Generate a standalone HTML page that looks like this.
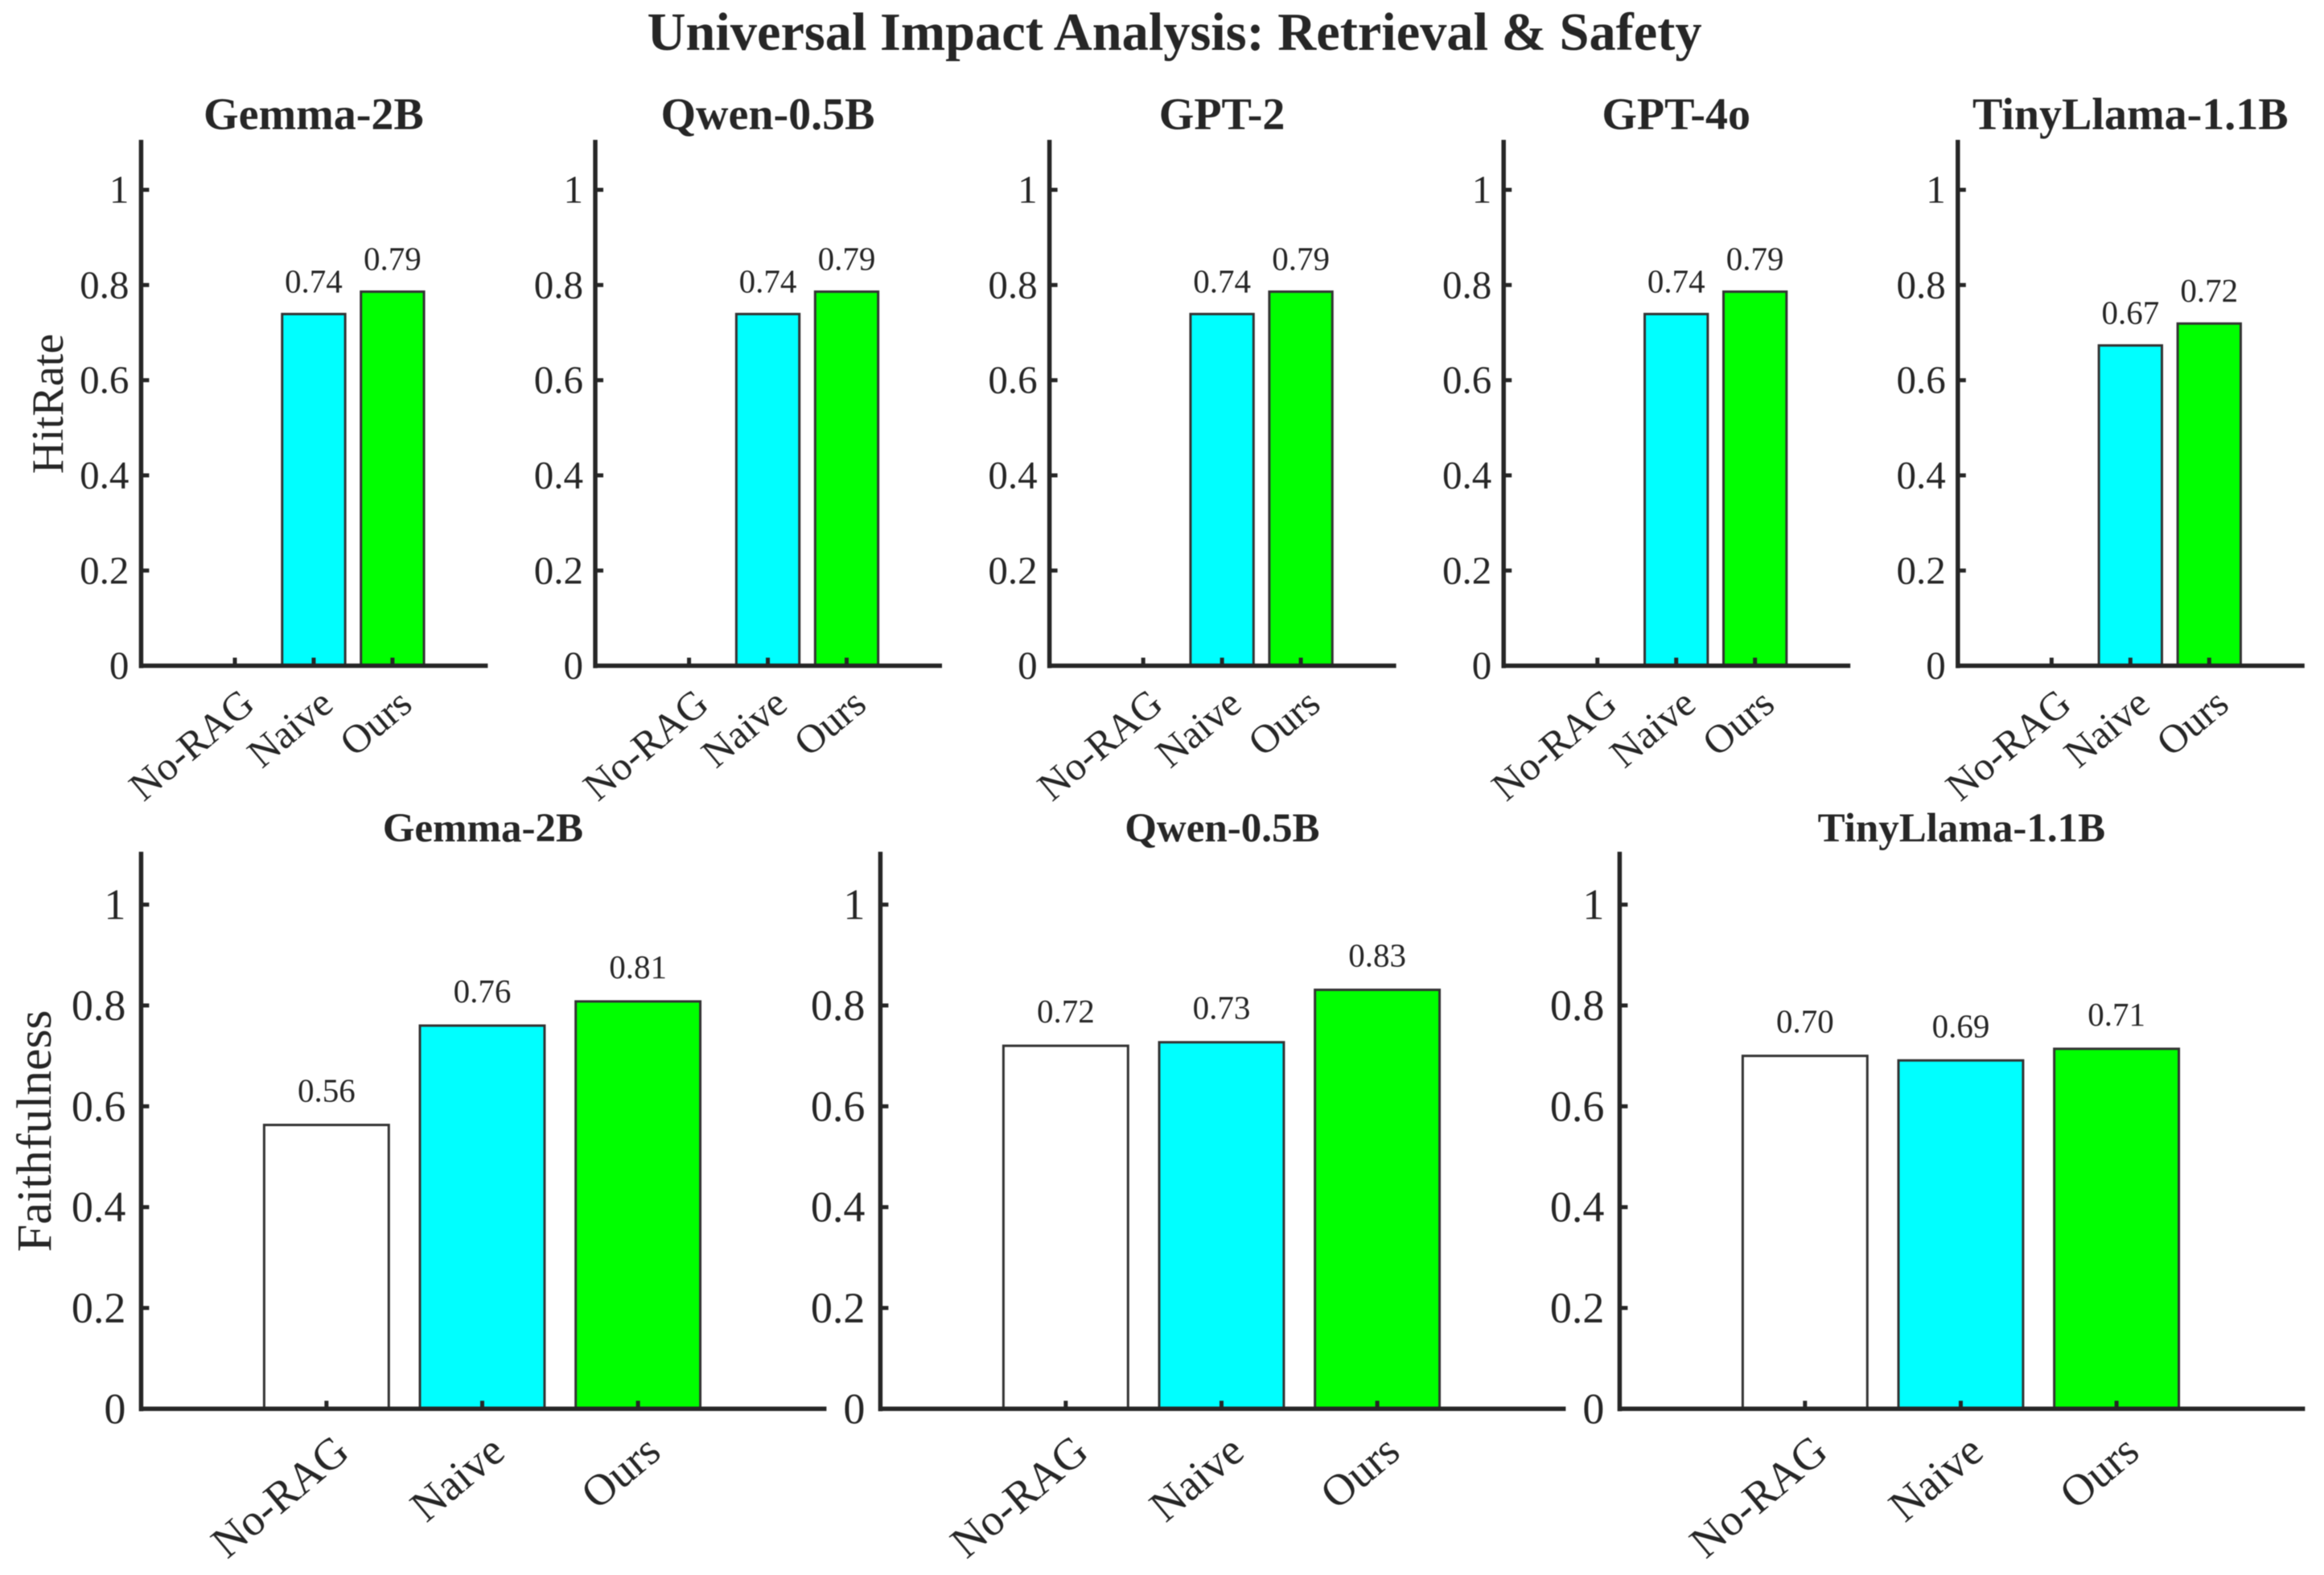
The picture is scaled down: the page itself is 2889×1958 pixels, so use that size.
<!DOCTYPE html>
<html lang="en">
<head>
<meta charset="utf-8">
<title>Universal Impact Analysis: Retrieval &amp; Safety</title>
<style>
  html, body { margin: 0; padding: 0; background: #fff; }
  svg { display: block; font-family: "Liberation Serif", serif; fill: #262626; filter: blur(0.6px); }
</style>
</head>
<body>
<svg id="chart" xmlns="http://www.w3.org/2000/svg" width="2889" height="1958" viewBox="0 0 2889 1958">
  <rect width="2889" height="1958" fill="#ffffff"/>
  <text x="1460" y="62" font-size="66.4" font-weight="bold" text-anchor="middle">Universal Impact Analysis: Retrieval &amp; Safety</text>
  <text transform="translate(78 502) rotate(-90)" font-size="56" text-anchor="middle">HitRate</text>
  <text transform="translate(63 1406) rotate(-90)" font-size="61.5" text-anchor="middle">Faithfulness</text>
</svg>
<script>
const categories = ['No-RAG', 'Naive', 'Ours'];
const barColors = ['#ffffff', '#00ffff', '#00ff00'];
const yTicks = [0, 0.2, 0.4, 0.6, 0.8, 1];
const yTickLabels = ['0', '0.2', '0.4', '0.6', '0.8', '1'];

const hitRateModels = ['Gemma-2B', 'Qwen-0.5B', 'GPT-2', 'GPT-4o', 'TinyLlama-1.1B'];
const hitRateNoRag = [0, 0, 0, 0, 0];
const hitRateNaive = [0.739, 0.739, 0.739, 0.739, 0.673];
const hitRateOurs = [0.786, 0.786, 0.786, 0.786, 0.719];

const faithModels = ['Gemma-2B', 'Qwen-0.5B', 'TinyLlama-1.1B'];
const faithNoRag = [0.563, 0.72, 0.70];
const faithNaive = [0.76, 0.727, 0.691];
const faithOurs = [0.808, 0.831, 0.714];

const NS = 'http://www.w3.org/2000/svg';
const svg = document.getElementById('chart');
const INK = '#262626';

function make(parent, tag, attrs, text) {
  const el = document.createElementNS(NS, tag);
  for (const k in attrs) el.setAttribute(k, attrs[k]);
  if (text !== undefined) el.textContent = text;
  parent.appendChild(el);
  return el;
}

function drawPanel(cfg, title, values, slug) {
  const g = make(svg, 'g', {});
  
  

  const x = v => cfg.left + (v + 0.19) / 4.4 * cfg.width;
  const y = v => cfg.base - v * cfg.unit;
  const band = x(2) - x(1);

  values.forEach((v, i) => {
    const px = x(i + 1);
    const bar = make(g, 'rect', {
      x: px - 0.4 * band, y: y(v), width: 0.8 * band, height: cfg.base - y(v),
      fill: barColors[i], stroke: '#333333', 'stroke-width': 3
    });
    
    
    if (v > 0) {
      const lab = make(g, 'text', {
        x: px, y: y(v) - cfg.labelGap, 'font-size': 41, 'text-anchor': 'middle'
      }, v.toFixed(2));
      
      
    }
  });

  const yAxis = make(g, 'line', {
    x1: cfg.left, x2: cfg.left, y1: y(1.1) - 3, y2: cfg.base + 3, stroke: INK, 'stroke-width': 5.5
  });
  
  

  const xAxis = make(g, 'line', {
    x1: cfg.left - 2, x2: cfg.left + cfg.width, y1: cfg.base, y2: cfg.base, stroke: INK, 'stroke-width': 5.5
  });
  
  

  yTicks.forEach((t, i) => {
    if (t > 0) {
      const tick = make(g, 'line', {
        x1: cfg.left, x2: cfg.left + 10, y1: y(t), y2: y(t), stroke: INK, 'stroke-width': 5
      });
      
      
    }
    const lab = make(g, 'text', {
      x: cfg.left - cfg.tickGap, y: y(t) + cfg.tickDy, 'font-size': cfg.tickFont, 'text-anchor': 'end'
    }, yTickLabels[i]);
    
    
  });

  categories.forEach((c, i) => {
    const px = x(i + 1);
    const tick = make(g, 'line', {
      x1: px, x2: px, y1: cfg.base, y2: cfg.base - 10, stroke: INK, 'stroke-width': 5
    });
    
    
    const lab = make(g, 'text', {
      transform: 'translate(' + (px + cfg.catDx) + ' ' + (cfg.base + cfg.catDy) + ') rotate(-40)',
      'font-size': cfg.catFont, 'text-anchor': 'end'
    }, c);
    
    
  });

  const t = make(g, 'text', {
    x: cfg.left + cfg.width / 2 - 1, y: cfg.titleY, 'font-size': cfg.titleFont,
    'font-weight': 'bold', 'text-anchor': 'middle'
  }, title);
  
  
}

hitRateModels.forEach((m, i) => {
  drawPanel({
    left: 175.4 + i * 564.6, width: 431, base: 827.6, unit: 591.6,
    labelGap: 27, tickGap: 15, tickDy: 16, tickFont: 49,
    catDx: 27, catDy: 52, catFont: 50, titleY: 160.5, titleFont: 56
  }, m, [hitRateNoRag[i], hitRateNaive[i], hitRateOurs[i]], 'hitrate-' + m.toLowerCase());
});

faithModels.forEach((m, i) => {
  drawPanel({
    left: 175.4 + i * 919, width: 852, base: 1751.4, unit: 626.8,
    labelGap: 29, tickGap: 19, tickDy: 18, tickFont: 54,
    catDx: 31, catDy: 58, catFont: 55, titleY: 1046, titleFont: 51
  }, m, [faithNoRag[i], faithNaive[i], faithOurs[i]], 'faithfulness-' + m.toLowerCase());
});
</script>
</body>
</html>
